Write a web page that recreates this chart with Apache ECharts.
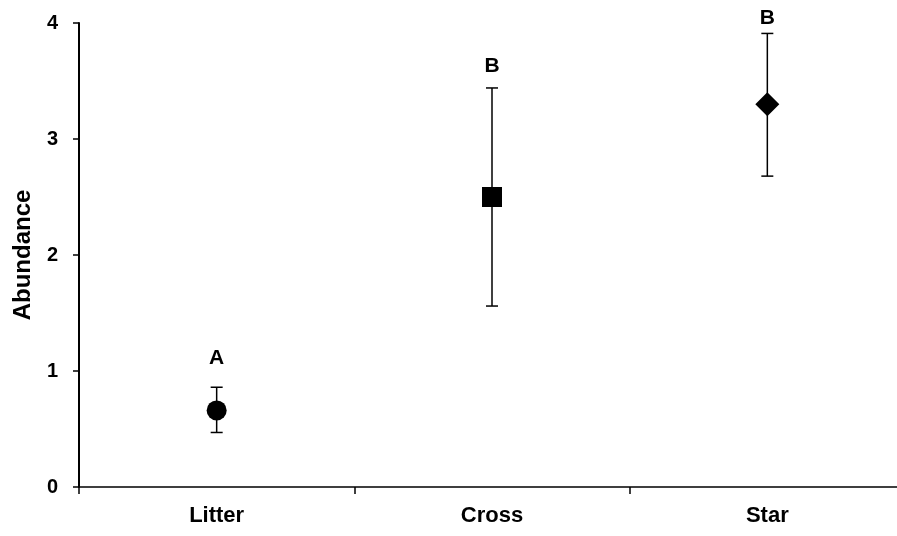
<!DOCTYPE html>
<html>
<head>
<meta charset="utf-8">
<script src="https://cdn.jsdelivr.net/npm/echarts@6/dist/echarts.min.js"></script>
<style>
    html, body { margin: 0; padding: 0; background: #fff; }
    #chart { width: 897px; height: 536px; }
</style>
</head>
<body>
<div id="chart"></div>
<script>
const categories = ["Litter", "Cross", "Star"];
const means = [0.66, 2.5, 3.3];
const lows = [0.47, 1.56, 2.68];
const highs = [0.86, 3.44, 3.91];
const symbols = ["circle", "rect", "diamond"];
const letters = ["A", "B", "B"];
const letterY = [1.11, 3.63, 4.04];
const yTicks = [0, 1, 2, 3, 4];

const font = "Liberation Sans, Arial, sans-serif";
let chart = echarts.init(document.getElementById("chart"));

chart.setOption({
    animation: false,
    grid: {
        left: 79,
        right: -8,
        top: 23,
        bottom: 49,
        outerBoundsMode: "none",
        containLabel: false,
    },
    xAxis: {
        type: "category",
        data: categories,
        boundaryGap: true,
        axisLine: { lineStyle: { color: "#000", width: 1.5 } },
        axisTick: { show: true, length: 7, lineStyle: { color: "#000", width: 1.5 } },
        axisLabel: { color: "#000", fontFamily: font, fontWeight: "bold", fontSize: 22, margin: 18 },
    },
    yAxis: {
        type: "value",
        min: yTicks[0],
        max: yTicks[yTicks.length - 1],
        interval: 1,
        name: "Abundance",
        nameLocation: "middle",
        nameGap: 44,
        nameTextStyle: { color: "#000", fontFamily: font, fontWeight: "bold", fontSize: 24 },
        axisLine: { show: true, lineStyle: { color: "#000", width: 2 } },
        axisTick: { show: true, length: 6, lineStyle: { color: "#000", width: 1.5 } },
        axisLabel: { color: "#000", fontFamily: font, fontWeight: "bold", fontSize: 20, margin: 21 },
        splitLine: { show: false },
    },
    series: [
        {
            type: "custom",
            name: "error",
            data: categories.map((c, i) => [i, lows[i], highs[i]]),
            renderItem: function (params, api) {
                let lo = api.coord([api.value(0), api.value(1)]);
                let hi = api.coord([api.value(0), api.value(2)]);
                let hw = 6;
                let style = { stroke: "#000", lineWidth: 1.5 };
                return {
                    type: "group",
                    children: [
                        { type: "line", shape: { x1: lo[0], y1: lo[1], x2: hi[0], y2: hi[1] }, style: style },
                        { type: "line", shape: { x1: lo[0] - hw, y1: lo[1], x2: lo[0] + hw, y2: lo[1] }, style: style },
                        { type: "line", shape: { x1: hi[0] - hw, y1: hi[1], x2: hi[0] + hw, y2: hi[1] }, style: style },
                    ],
                };
            },
            z: 2,
        },
        {
            type: "scatter",
            name: "mean",
            data: means.map((v, i) => ({
                value: [i, v],
                symbol: symbols[i],
                symbolSize: symbols[i] === "diamond" ? 24 : 20,
            })),
            itemStyle: { color: "#000", opacity: 1 },
            z: 3,
        },
        {
            type: "custom",
            name: "letters",
            clip: false,
            data: letterY.map((v, i) => [i, v]),
            renderItem: function (params, api) {
                let p = api.coord([api.value(0), api.value(1)]);
                return {
                    type: "text",
                    x: p[0],
                    y: p[1],
                    style: {
                        text: letters[params.dataIndex],
                        fill: "#000",
                        font: "bold 21px " + font,
                        align: "center",
                        verticalAlign: "middle",
                    },
                };
            },
            z: 4,
        },
    ],
});
</script>
</body>
</html>
